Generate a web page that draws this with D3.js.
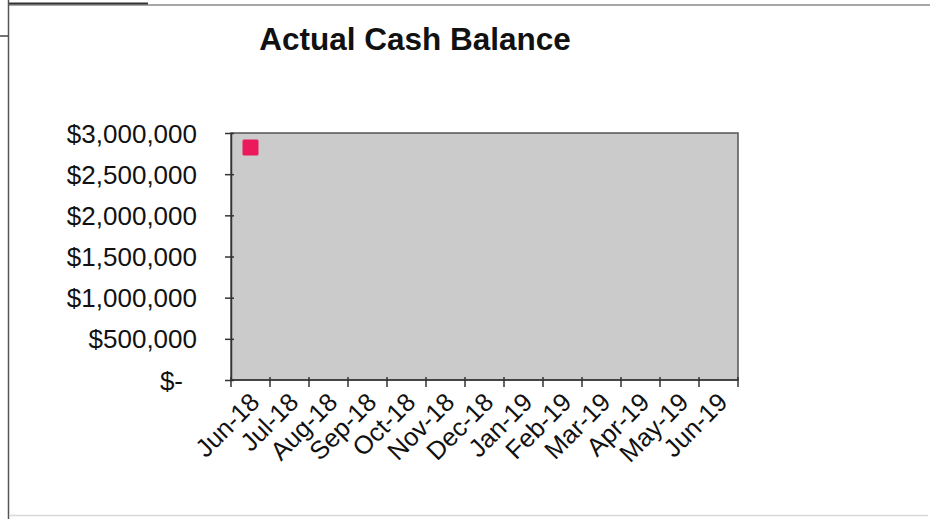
<!DOCTYPE html>
<html>
<head>
<meta charset="utf-8">
<script src="https://cdn.jsdelivr.net/npm/d3@7"></script>
<style>
  body { margin: 0; background: #fff; }
  text { font-family: "Liberation Sans", Arial, sans-serif; fill: #111; }
</style>
</head>
<body>
<svg width="932" height="519"></svg>
<script>
// chart data
var months = ["Jun-18", "Jul-18", "Aug-18", "Sep-18", "Oct-18", "Nov-18", "Dec-18",
              "Jan-19", "Feb-19", "Mar-19", "Apr-19", "May-19", "Jun-19"];
var balance = [2825000];   // only the first month is filled in
var yTicks = [0, 500000, 1000000, 1500000, 2000000, 2500000, 3000000];

var plot = {left: 231, right: 738, top: 133, bottom: 380};

var svg = d3.select("svg");

// scanned page frame
svg.append("line").attr("x1", 8).attr("x2", 930).attr("y1", 5).attr("y2", 5)
    .attr("stroke", "#8a8a8a").attr("stroke-width", 1.5);
svg.append("line").attr("x1", 8).attr("x2", 148).attr("y1", 3.5).attr("y2", 3.5)
    .attr("stroke", "#333").attr("stroke-width", 2);
svg.append("line").attr("x1", 8.5).attr("x2", 8.5).attr("y1", 0).attr("y2", 519)
    .attr("stroke", "#555").attr("stroke-width", 1.5);
svg.append("line").attr("x1", 0).attr("x2", 8).attr("y1", 36).attr("y2", 36)
    .attr("stroke", "#444").attr("stroke-width", 1.5);
svg.append("line").attr("x1", 10).attr("x2", 928).attr("y1", 515.5).attr("y2", 515.5)
    .attr("stroke", "#d8d8d8").attr("stroke-width", 1.5);

// title
svg.append("text")
    .attr("x", 415).attr("y", 50)
    .attr("text-anchor", "middle")
    .style("font-size", "31.5px").style("font-weight", "bold")
    .text("Actual Cash Balance");

var x = d3.scaleBand().domain(months).range([plot.left, plot.right]);
var y = d3.scaleLinear().domain([0, 3000000]).range([plot.bottom, plot.top]);

// plot area
svg.append("rect")
    .attr("x", plot.left).attr("y", plot.top)
    .attr("width", plot.right - plot.left).attr("height", plot.bottom - plot.top)
    .attr("fill", "#cbcbcb").attr("stroke", "#555").attr("stroke-width", 1.5);

// y axis
var fmt = d3.format("$,.0f");
var yAxis = svg.append("g").attr("transform", "translate(" + plot.left + ",0)")
    .call(d3.axisLeft(y).tickValues(yTicks).tickSizeInner(6).tickSizeOuter(0)
        .tickFormat(function (d) { return d === 0 ? "$-" : fmt(d); }));
yAxis.select(".domain").attr("stroke", "#333").attr("stroke-width", 1.5);
yAxis.selectAll(".tick line").attr("x2", -6).attr("x1", 3).attr("stroke", "#333").attr("stroke-width", 1.5);
yAxis.selectAll(".tick text")
    .attr("x", function (d) { return d === 0 ? -48 : -34; })
    .attr("dy", "0.35em")
    .style("font-size", "26px");

// x axis: ticks sit between categories
var edges = months.map(function (m) { return x(m); }).concat([plot.right]);
var xAxis = svg.append("g").attr("transform", "translate(0," + plot.bottom + ")");
xAxis.append("line").attr("x1", plot.left).attr("x2", plot.right)
    .attr("stroke", "#333").attr("stroke-width", 1.5);
xAxis.selectAll(".edge").data(edges).enter().append("line")
    .attr("x1", function (d) { return d; }).attr("x2", function (d) { return d; })
    .attr("y1", -3).attr("y2", 7)
    .attr("stroke", "#333").attr("stroke-width", 1.5);
xAxis.selectAll(".lab").data(months).enter().append("text")
    .attr("transform", function (d) {
        return "translate(" + (x(d) + x.bandwidth() / 2 - 2) + ",11) rotate(-45)";
    })
    .attr("text-anchor", "end")
    .attr("dy", "0.7em")
    .style("font-size", "25.5px")
    .text(function (d) { return d; });

// the single data point
svg.selectAll(".pt").data(balance).enter().append("rect")
    .attr("x", function (d, i) { return x(months[i]) + x.bandwidth() / 2 - 8; })
    .attr("y", function (d) { return y(d) - 8; })
    .attr("width", 16).attr("height", 16).attr("rx", 1.5)
    .attr("fill", "#ea1a5c");
</script>
</body>
</html>
